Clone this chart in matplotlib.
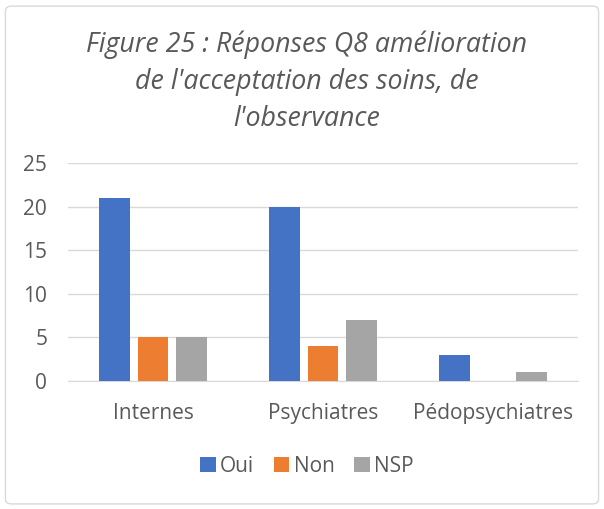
import matplotlib
matplotlib.use("Agg")
import matplotlib.pyplot as plt
from matplotlib.patches import FancyBboxPatch
import numpy as np

categories = ["Internes", "Psychiatres", "Pédopsychiatres"]
oui = [21, 20, 3]
non = [5, 4, 0]
nsp = [5, 7, 1]
series_names = ["Oui", "Non", "NSP"]
colors = ["#4472C4", "#ED7D31", "#A5A5A5"]

plt.rcParams['font.family'] = ['Open Sans', 'DejaVu Sans']

fig = plt.figure(figsize=(6.04, 5.09), dpi=100)
border = FancyBboxPatch((0.009, 0.01), 0.982, 0.978, boxstyle="round,pad=0,rounding_size=0.01",
                        transform=fig.transFigure, facecolor="white", edgecolor="#D9D9D9", lw=1, zorder=-10)
fig.patches.append(border)
ax = fig.add_axes([0.1126, 0.2515, 0.8444, 0.4285])
ax.set_zorder(5)

x = np.arange(len(categories))
w = 0.18
off = 0.226
for i, (vals, name, c) in enumerate(zip([oui, non, nsp], series_names, colors)):
    ax.bar(x + (i - 1) * off, vals, width=w, color=c, label=name, zorder=3)

ax.set_xlim(-0.5, 2.5)
ax.set_ylim(0, 25)
ax.set_yticks([0, 5, 10, 15, 20, 25])
ax.yaxis.grid(True, color="#D9D9D9", lw=1, zorder=0)
ax.set_xticks(x)
ax.set_xticklabels(categories)
for s in ["top", "right", "left"]:
    ax.spines[s].set_visible(False)
ax.spines["bottom"].set_color("#D9D9D9")
ax.tick_params(axis="both", length=0, labelsize=15, colors="#595959")
ax.tick_params(axis="x", pad=16)
ax.tick_params(axis="y", pad=15)

fig.text(0.508, 0.839, "Figure 25 : Réponses Q8 amélioration\nde l'acceptation des soins, de\nl'observance",
         ha="center", va="center", fontsize=19.3, style="italic", color="#595959", linespacing=1.42)

leg = fig.legend(loc="center", bbox_to_anchor=(0.508, 0.084), ncol=3, frameon=False,
                 fontsize=15, handlelength=0.75, handleheight=0.75, columnspacing=0.95, handletextpad=0.2)
for t in leg.get_texts():
    t.set_color("#595959")

fig.savefig("out.png", dpi=100)
